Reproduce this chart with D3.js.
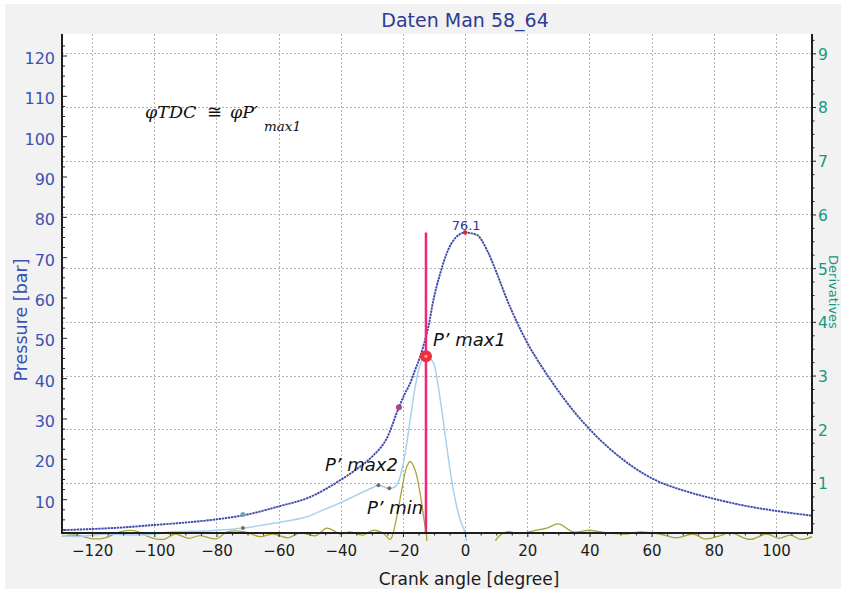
<!DOCTYPE html>
<html>
<head>
<meta charset="utf-8">
<script src="https://cdn.jsdelivr.net/npm/d3@7"></script>
<style>
  html, body { margin: 0; padding: 0; background: #ffffff; }
  svg { display: block; font-family: "DejaVu Sans", sans-serif; }
</style>
</head>
<body>
<svg id="chart" width="841" height="589"></svg>
<script>
'use strict';

/* -- Data --------------------------------------------------------------- */
// Pressure curve [bar] against crank angle [degree]
const pAngle = [-130, -120, -110, -100, -90, -80, -70, -60, -50, -40, -35, -30, -25, -21.3, -19.3, -17.7,
    -16.1, -14.5, -13.2, -11.8, -10.2, -8, -5.9, -3.2, 0, 3.8, 7, 10.2, 13.4, 16.6, 19.9, 24.1, 27.3,
    32.7, 40.2, 47.6, 60.5, 71.3, 81.1, 88.5, 99.1, 111.6];
const pressure = [2.3, 2.6, 3.0, 3.6, 4.2, 5.0, 6.2, 8.2, 10.5, 14.8, 17.4, 20.5, 25.4, 32.8, 36.3, 38.7,
    42.0, 45.3, 48.6, 52.8, 59.4, 66.0, 71.0, 74.7, 76.1, 75.5, 71.8, 66.0, 59.6, 54.0, 48.9, 43.5, 39.8,
    34.0, 27.2, 21.8, 15.0, 11.9, 9.9, 8.6, 7.2, 5.9];

// First derivative (light blue), right axis units
const d1Angle = [-130, -125, -115.3, -105, -93.9, -82, -71.5, -61.7, -56.3, -50.9, -45.6, -40.2, -34.8,
    -29.5, -27.9, -24.4, -22.5, -20.9, -19.3, -17.7, -16.1, -15.0, -13.4, -12.6, -10.2, -8.0, -5.9,
    -3.8, -1.6, 0, 1.5];
const d1Value = [0.03, 0.0, 0.05, 0.03, 0.09, 0.11, 0.16, 0.25, 0.30, 0.37, 0.50, 0.63, 0.78,
    0.92, 0.96, 0.90, 0.93, 1.12, 1.55, 2.17, 2.78, 3.10, 3.33, 3.36, 3.24, 2.55, 1.67,
    0.87, 0.31, 0.06, -0.5];

// Second derivative (olive), right axis units
const d2Angle = [-129.7, -125, -120, -115.8, -111, -106.2, -101.4, -97, -93.3, -89, -85.3, -80, -76.6,
    -70.8, -66, -61.8, -57, -53.1, -48, -44.5, -40, -37, -33, -29.5, -26.3, -24.1, -22, -20.4, -18.8,
    -17.7, -16.1, -14.5, -13.2, -12.5, -11, -5, 3, 9, 10.7, 13.4, 17.7, 22, 26.3, 30, 34.8, 40.2,
    45.6, 52, 56.3, 62.7, 68, 73.4, 77, 81, 85.3, 91.7, 97, 101, 104.6, 108, 111.6];
const d2Value = [0.01, 0.03, -0.04, -0.02, 0.09, 0.11, -0.01, -0.05, 0.05, -0.03, 0.02, -0.04, 0.09,
    0.09, 0.0, 0.05, -0.02, 0.07, 0.02, 0.16, 0.05, 0.09, 0.03, 0.12, 0.06, -0.05, 0.37, 0.87, 1.30,
    1.40, 1.24, 0.81, 0.31, 0.06, -0.5, -0.6, -0.5, -0.15, 0.0, 0.09, 0.06, 0.11, 0.16, 0.24, 0.09, 0.12,
    0.07, 0.05, 0.09, 0.05, -0.02, 0.05, -0.04, 0.0, 0.07, -0.05, 0.05, -0.03, 0.03, -0.05, 0.0];

// Tick labels
const xTicks = [-120, -100, -80, -60, -40, -20, 0, 20, 40, 60, 80, 100];
const leftTicks = [10, 20, 30, 40, 50, 60, 70, 80, 90, 100, 110, 120];
const rightTicks = [1, 2, 3, 4, 5, 6, 7, 8, 9];

// Marked points
const peakAngle = 0, peakValue = 76.1;
const max1Angle = -12.6, max1Value = 3.36;
const max2Angle = -27.9, max2Value = 0.96;
const minAngle = -24.4, minValue = 0.90;
const startAngle = -71.5, startPressure = 6.2, startD1 = 0.16;
const bendAngle = -21.3, bendPressure = 32.8;

/* -- Layout ---------------------------------------------------------------- */
const plot = { left: 62, right: 812, top: 34, bottom: 533 };
const colors = {
    pressure: '#3e49aa', d1: '#a6d2f0', d2: '#a9a43a',
    leftText: '#3b53b4', rightText: '#17977f', title: '#2e3a96', marker: '#f0287c'
};

const svg = d3.select('#chart');

/* -- Backgrounds ---------------------------------------------------------- */
svg.append('rect').attr('x', 5).attr('y', 4).attr('width', 836).attr('height', 585).attr('fill', '#f1f2f1');
svg.append('rect')
    .attr('x', plot.left).attr('y', plot.top)
    .attr('width', plot.right - plot.left).attr('height', plot.bottom - plot.top)
    .attr('fill', '#ffffff');

/* -- Scales --------------------------------------------------------------- */
const x = d3.scaleLinear().domain([-129.7, 111.6]).range([plot.left, plot.right]);
const yL = d3.scaleLinear().domain([0, 120]).range([539.5, 55.5]);
const yR = d3.scaleLinear().domain([0, 9]).range([536.7, 53.3]);

/* -- Grid ----------------------------------------------------------------- */
const grid = svg.append('g').attr('stroke', '#b4b4b4').attr('stroke-width', 1).attr('stroke-dasharray', '2,2');
grid.selectAll('line.v').data(xTicks).enter().append('line')
    .attr('x1', d => Math.round(x(d)) + 0.5).attr('x2', d => Math.round(x(d)) + 0.5)
    .attr('y1', plot.top).attr('y2', plot.bottom);
grid.selectAll('line.h').data(rightTicks).enter().append('line')
    .attr('y1', d => Math.round(yR(d)) + 0.5).attr('y2', d => Math.round(yR(d)) + 0.5)
    .attr('x1', plot.left).attr('x2', plot.right);

/* -- Curves --------------------------------------------------------------- */
svg.append('clipPath').attr('id', 'plotClip').append('rect')
    .attr('x', plot.left).attr('y', plot.top)
    .attr('width', plot.right - plot.left).attr('height', plot.bottom - plot.top + 8);

const curves = svg.append('g').attr('clip-path', 'url(#plotClip)').attr('fill', 'none');

const d2Line = d3.line().x(d => x(d[0])).y(d => yR(d[1])).curve(d3.curveCatmullRom);
curves.append('path')
    .datum(d3.zip(d2Angle, d2Value))
    .attr('d', d2Line).attr('stroke', colors.d2).attr('stroke-width', 1.3);

const d1Line = d3.line().x(d => x(d[0])).y(d => yR(d[1])).curve(d3.curveMonotoneX);
curves.append('path')
    .datum(d3.zip(d1Angle, d1Value))
    .attr('d', d1Line).attr('stroke', colors.d1).attr('stroke-width', 1.5);

const pLine = d3.line().x(d => x(d[0])).y(d => yL(d[1])).curve(d3.curveMonotoneX);
curves.append('path')
    .datum(d3.zip(pAngle, pressure))
    .attr('d', pLine).attr('stroke', colors.pressure).attr('stroke-width', 1.9)
    .attr('stroke-dasharray', '2.4,0.7');

/* -- TDC marker line and points ------------------------------------------ */
svg.append('line')
    .attr('x1', x(max1Angle)).attr('x2', x(max1Angle))
    .attr('y1', yL(peakValue)).attr('y2', plot.bottom)
    .attr('stroke', colors.marker).attr('stroke-width', 2.5);

svg.append('circle').attr('cx', x(max1Angle)).attr('cy', yR(max1Value)).attr('r', 6).attr('fill', '#ef2d3c');
svg.append('circle').attr('cx', x(max1Angle)).attr('cy', yR(max1Value)).attr('r', 1.6).attr('fill', '#f7a3a8');
svg.append('circle').attr('cx', x(peakAngle)).attr('cy', yL(peakValue)).attr('r', 2.2).attr('fill', '#e02828');
svg.append('circle').attr('cx', x(bendAngle)).attr('cy', yL(bendPressure)).attr('r', 3).attr('fill', '#b0408e');
svg.append('circle').attr('cx', x(startAngle)).attr('cy', yL(startPressure)).attr('r', 2.5).attr('fill', '#6aa6b8');
svg.selectAll('circle.grey')
    .data([[startAngle, startD1], [max2Angle, max2Value], [minAngle, minValue]])
    .enter().append('circle')
    .attr('cx', d => x(d[0])).attr('cy', d => yR(d[1])).attr('r', 2).attr('fill', '#6e6e6e');

/* -- Axes ----------------------------------------------------------------- */
const styleAxis = function(g, color, size, shift) {
    g.select('.domain').remove();
    g.selectAll('line').attr('stroke', '#222');
    g.selectAll('text').attr('fill', color).attr('font-size', size)
        .attr('font-family', '"DejaVu Sans", sans-serif')
        .attr('transform', 'translate(0,' + (shift || 0) + ')');
};

const leftMinor = d3.range(2.5, 125, 2.5).filter(v => v % 10 !== 0);
svg.append('g').attr('transform', 'translate(' + plot.left + ',0)')
    .call(d3.axisLeft(yL).tickValues(leftMinor).tickSize(-3).tickFormat(''))
    .call(g => styleAxis(g, colors.leftText, 16));
svg.append('g').attr('transform', 'translate(' + plot.left + ',0)')
    .call(d3.axisLeft(yL).tickValues(leftTicks).tickSize(-5).tickPadding(7))
    .call(g => styleAxis(g, colors.leftText, 16, 3));

const rightMinor = d3.range(0.25, 9.3, 0.25).filter(v => v % 1 !== 0);
svg.append('g').attr('transform', 'translate(' + plot.right + ',0)')
    .call(d3.axisRight(yR).tickValues(rightMinor).tickSize(2.5).tickFormat(''))
    .call(g => styleAxis(g, colors.rightText, 16));
svg.append('g').attr('transform', 'translate(' + plot.right + ',0)')
    .call(d3.axisRight(yR).tickValues(rightTicks).tickSize(4).tickPadding(2))
    .call(g => styleAxis(g, colors.rightText, 15.5, 1));

const xMinor = d3.range(-125, 111, 5).filter(v => v % 20 !== 0);
svg.append('g').attr('transform', 'translate(0,' + plot.bottom + ')')
    .call(d3.axisBottom(x).tickValues(xMinor).tickSize(2.5).tickFormat(''))
    .call(g => styleAxis(g, '#1a1a1a', 15));
svg.append('g').attr('transform', 'translate(0,' + plot.bottom + ')')
    .call(d3.axisBottom(x).tickValues(xTicks).tickSize(4).tickPadding(8))
    .call(g => styleAxis(g, '#1a1a1a', 15));

// Frame lines (left, right, bottom)
const frame = svg.append('g').attr('stroke', '#1e1e1e').attr('stroke-width', 2);
frame.append('line').attr('x1', plot.left).attr('x2', plot.left).attr('y1', plot.top).attr('y2', plot.bottom + 1);
frame.append('line').attr('x1', plot.right).attr('x2', plot.right).attr('y1', plot.top).attr('y2', plot.bottom + 1);
frame.append('line').attr('x1', plot.left).attr('x2', plot.right).attr('y1', plot.bottom).attr('y2', plot.bottom);

/* -- Titles --------------------------------------------------------------- */
svg.append('text').attr('x', 465).attr('y', 27).attr('text-anchor', 'middle')
    .attr('font-size', 19).attr('fill', colors.title).text('Daten Man 58_64');

svg.append('text').attr('x', 469).attr('y', 585).attr('text-anchor', 'middle')
    .attr('font-size', 17).attr('fill', '#1a1a1a').text('Crank angle [degree]');

svg.append('text').attr('transform', 'translate(27,320) rotate(-90)').attr('text-anchor', 'middle')
    .attr('font-size', 17.5).attr('fill', colors.leftText).text('Pressure [bar]');

svg.append('text').attr('transform', 'translate(828.5,292) rotate(90)').attr('text-anchor', 'middle')
    .attr('font-size', 13).attr('fill', colors.rightText).text('Derivatives');

/* -- Annotations ---------------------------------------------------------- */
svg.append('text').attr('x', x(peakAngle) + 1).attr('y', yL(peakValue) - 3).attr('text-anchor', 'middle')
    .attr('font-size', 13).attr('fill', colors.title).text('76.1');

const note = svg.append('g').attr('font-style', 'italic').attr('font-size', 18).attr('fill', '#111');
note.append('text').attr('x', 433).attr('y', 346).text('P\u2019 max1');
note.append('text').attr('x', 325).attr('y', 471).text('P\u2019 max2');
note.append('text').attr('x', 367).attr('y', 514).text('P\u2019 min');

const formula = svg.append('g').attr('font-family', '"DejaVu Serif", serif').attr('fill', '#111').attr('font-size', 17.5);
formula.append('text').attr('x', 145).attr('y', 118).attr('font-style', 'italic').text('\u03c6TDC');
formula.append('text').attr('x', 207).attr('y', 118).text('\u2245');
formula.append('text').attr('x', 230).attr('y', 118).attr('font-style', 'italic').text('\u03c6P\u2032');
formula.append('text').attr('x', 264).attr('y', 131).attr('font-style', 'italic').attr('font-size', 13.5).text('max1');
</script>
</body>
</html>
